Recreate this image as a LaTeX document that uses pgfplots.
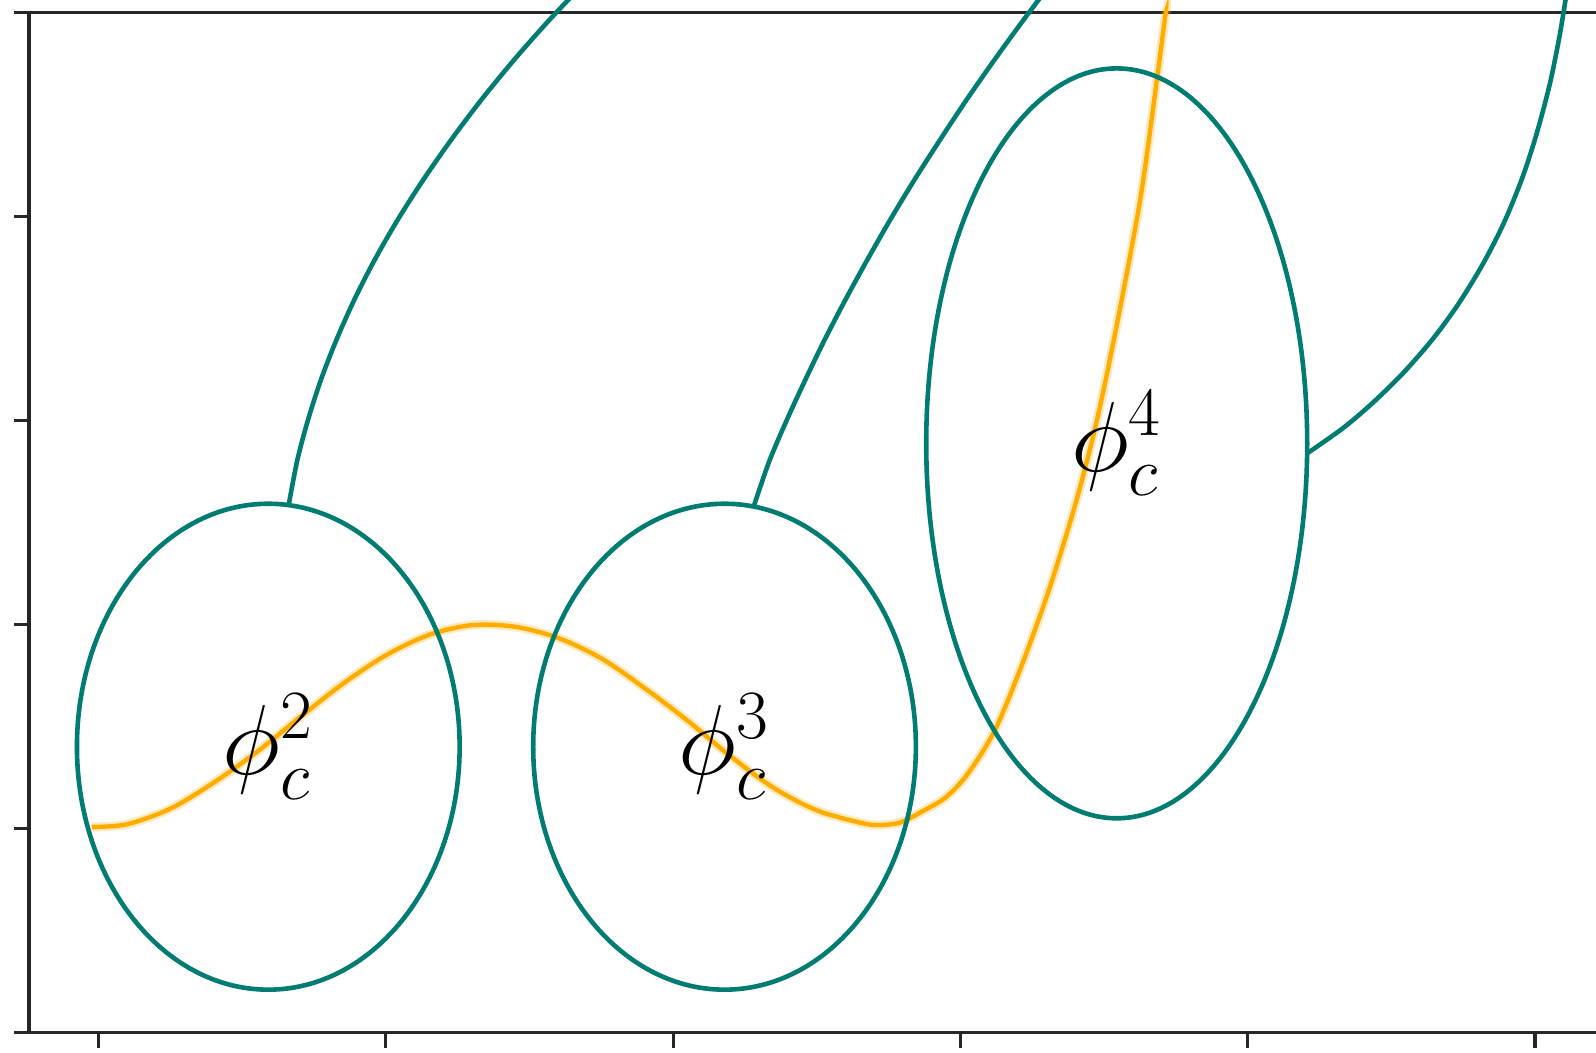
\documentclass[border=0pt]{standalone}
\usepackage{pgfplots}
\usepackage{pgfplotstable}
\pgfplotsset{compat=1.18}

\definecolor{tealline}{RGB}{0,124,114}
\definecolor{ambercurve}{RGB}{255,172,0}

% the orange profile curve
\pgfplotstableread{
x       y
-0.024  1.008
0.100   1.022
0.250   1.098
0.400   1.225
0.550   1.375
0.700   1.545
0.850   1.710
1.000   1.850
1.150   1.950
1.300   1.998
1.450   1.990
1.600   1.935
1.750   1.835
1.900   1.690
2.050   1.530
2.200   1.355
2.350   1.200
2.500   1.090
2.650   1.030
2.709   1.018
2.790   1.030
2.875   1.091
2.950   1.155
3.026   1.270
3.120   1.483
3.214   1.803
3.308   2.170
3.402   2.600
3.478   3.020
3.553   3.532
3.628   4.103
3.684   4.673
3.713   4.984
3.716   5.000
}\profile

% arcs leaving the three ellipses
\pgfplotstableread{
x      y
0.662  2.587
0.692  2.807
0.729  3.003
0.774  3.200
0.828  3.396
0.890  3.592
0.961  3.788
1.041  3.984
1.130  4.180
1.227  4.376
1.332  4.572
1.446  4.768
1.569  4.964
1.701  5.160
}\arcA
\pgfplotstableread{
x      y
2.281  2.581
2.334  2.799
2.393  2.995
2.457  3.191
2.524  3.387
2.596  3.583
2.672  3.779
2.752  3.976
2.836  4.172
2.925  4.368
3.017  4.564
3.114  4.760
3.215  4.956
3.320  5.152
}\arcB
\pgfplotstableread{
x      y
4.207  2.840
4.331  2.963
4.433  3.085
4.540  3.232
4.646  3.404
4.735  3.576
4.820  3.772
4.891  3.968
4.955  4.188
5.006  4.409
5.052  4.654
5.087  4.899
5.117  5.160
}\arcC

\begin{document}
\begin{tikzpicture}
\useasboundingbox (0,0) rectangle (399pt,263pt);
\clip (0,0) rectangle (399pt,263pt);
\begin{axis}[
  at={(7.25pt,4.825pt)}, anchor=south west,
  scale only axis, width=392.75pt, height=255pt,
  xmin=-0.2419, xmax=5.2262, ymin=0, ymax=5,
  xtick={0,1,2,3,4,5}, ytick={0,1,2,3,4,5},
  xticklabel={}, yticklabel={},
  tick pos=left,
  tick align=outside, major tick length=3.75pt,
  every tick/.style={black!85, line width=0.8pt},
  axis line style={black!85, line width=0.85pt},
  clip=false,
]
% orange curve with a soft edge
\addplot[ambercurve, opacity=0.25, line width=2.3pt, smooth] table[x=x, y=y] {\profile};
\addplot[ambercurve, line width=1.1pt, smooth] table[x=x, y=y] {\profile};

% ellipses
\draw[tealline, line width=1.15pt] (axis cs:0.591,1.402) ellipse [x radius=0.666, y radius=1.191];
\draw[tealline, line width=1.15pt] (axis cs:2.179,1.402) ellipse [x radius=0.666, y radius=1.191];
\draw[tealline, line width=1.15pt] (axis cs:3.544,2.889) ellipse [x radius=0.663, y radius=1.838];

% connecting arcs
\addplot[tealline, line width=1.15pt, smooth] table[x=x, y=y] {\arcA};
\addplot[tealline, line width=1.15pt, smooth] table[x=x, y=y] {\arcB};
\addplot[tealline, line width=1.15pt, smooth] table[x=x, y=y] {\arcC};

% labels
\node[font=\fontsize{23}{28}\selectfont] at (axis cs:0.591,1.402) {$\phi_c^2$};
\node[font=\fontsize{23}{28}\selectfont] at (axis cs:2.179,1.402) {$\phi_c^3$};
\node[font=\fontsize{23}{28}\selectfont] at (axis cs:3.544,2.889) {$\phi_c^4$};
\end{axis}
\end{tikzpicture}
\end{document}
